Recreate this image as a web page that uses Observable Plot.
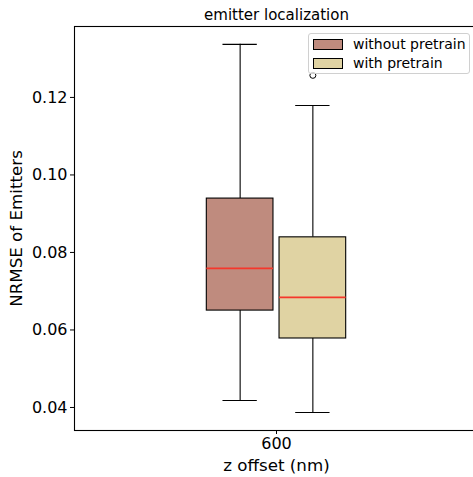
<!DOCTYPE html>
<html><head><meta charset="utf-8">
<script src="https://cdn.jsdelivr.net/npm/d3@7"></script>
<script src="https://cdn.jsdelivr.net/npm/@observablehq/plot@0.6"></script>
<style>
html,body{margin:0;padding:0;background:#fff;overflow:hidden;}
#wrap{position:relative;width:473px;height:477px;overflow:hidden;font-family:"DejaVu Sans",sans-serif;}
#chart svg{max-width:none !important;}
#legend{position:absolute;left:308px;top:33px;width:162px;height:41px;border:1px solid #d0d0d0;border-radius:3px;background:rgba(255,255,255,0.8);box-sizing:border-box;}
.item{position:absolute;left:4px;display:flex;align-items:center;font-size:14px;color:#000;}
.sw{width:28px;height:9px;border:1px solid #000;margin-right:10px;}
</style></head>
<body><div id="wrap"><div id="chart"></div><div id="legend"></div></div>
<script>
const title = "emitter localization";
const xLabel = "z offset (nm)";
const yLabel = "NRMSE of Emitters";
const zOffset = 600;
const groups = ["without pretrain", "with pretrain"];
const colors = ["#bf8b7e", "#e0d3a3"];
const whiskerHigh = [0.1337, 0.1179];
const q3 = [0.0939, 0.0839];
const median = [0.0759, 0.0684];
const q1 = [0.0650, 0.0578];
const whiskerLow = [0.0418, 0.0387];
const outliers = [[], [0.1257]];
const yTicks = [0.04, 0.06, 0.08, 0.10, 0.12];

const sep = 0.18, boxW = 0.33, capW = 0.17;
const rows = groups.map((g, i) => {
  const cx = zOffset + (i - 0.5) * 2 * sep;
  return {g, cx, lo: whiskerLow[i], q1: q1[i], med: median[i], q3: q3[i], hi: whiskerHigh[i], color: colors[i]};
});
const outPts = rows.flatMap((r, i) => outliers[i].map(v => ({cx: r.cx, v})));

const chart = Plot.plot({
  width: 478, height: 477,
  marginLeft: 74, marginRight: 0, marginTop: 26, marginBottom: 47,
  style: {fontFamily: "DejaVu Sans, sans-serif", color: "#000", background: "#fff", maxWidth: "none"},
  x: {domain: [zOffset - 1, zOffset + 1]},
  y: {domain: [0.03406, 0.1383]},
  marks: [
    Plot.ruleX(rows, {x: "cx", y1: "q3", y2: "hi", stroke: "#000", strokeWidth: 1.1}),
    Plot.ruleX(rows, {x: "cx", y1: "lo", y2: "q1", stroke: "#000", strokeWidth: 1.1}),
    Plot.ruleY(rows, {y: "hi", x1: d => d.cx - capW / 2, x2: d => d.cx + capW / 2, stroke: "#000", strokeWidth: 1.1}),
    Plot.ruleY(rows, {y: "lo", x1: d => d.cx - capW / 2, x2: d => d.cx + capW / 2, stroke: "#000", strokeWidth: 1.1}),
    Plot.rect(rows, {x1: d => d.cx - boxW / 2, x2: d => d.cx + boxW / 2, y1: "q1", y2: "q3", fill: "color", stroke: "#000", strokeWidth: 1.1}),
    Plot.ruleY(rows, {y: "med", x1: d => d.cx - boxW / 2, x2: d => d.cx + boxW / 2, stroke: "#f5372b", strokeWidth: 1.6}),
    Plot.dot(outPts, {x: "cx", y: "v", r: 3, stroke: "#000", fill: "none", strokeWidth: 1}),
    Plot.frame({stroke: "#000", strokeWidth: 1.1}),
    Plot.axisY({ticks: yTicks, tickFormat: d => d.toFixed(2), tickSize: 4, tickPadding: 3, fontSize: 16,
      label: yLabel, labelAnchor: "center", labelArrow: "none", labelOffset: 64}),
    Plot.axisX({ticks: [zOffset], tickFormat: d => String(d), tickSize: 4, tickPadding: 3, fontSize: 16,
      label: xLabel, labelAnchor: "center", labelArrow: "none", labelOffset: 40}),
    Plot.text([title], {frameAnchor: "top", dy: -7, lineAnchor: "bottom", fontSize: 15, fill: "#000"})
  ]
});
chart.querySelectorAll("[aria-label='y-axis label'], [aria-label='x-axis label']").forEach(e => e.setAttribute("font-size", "16.7"));
document.getElementById("chart").appendChild(chart);

const leg = document.getElementById("legend");
groups.forEach((g, i) => {
  const it = document.createElement("div");
  it.className = "item";
  it.style.top = (2 + i * 19) + "px";
  const sw = document.createElement("div");
  sw.className = "sw";
  sw.style.background = colors[i];
  const t = document.createElement("span");
  t.textContent = g;
  it.appendChild(sw); it.appendChild(t);
  leg.appendChild(it);
});
</script></body></html>
